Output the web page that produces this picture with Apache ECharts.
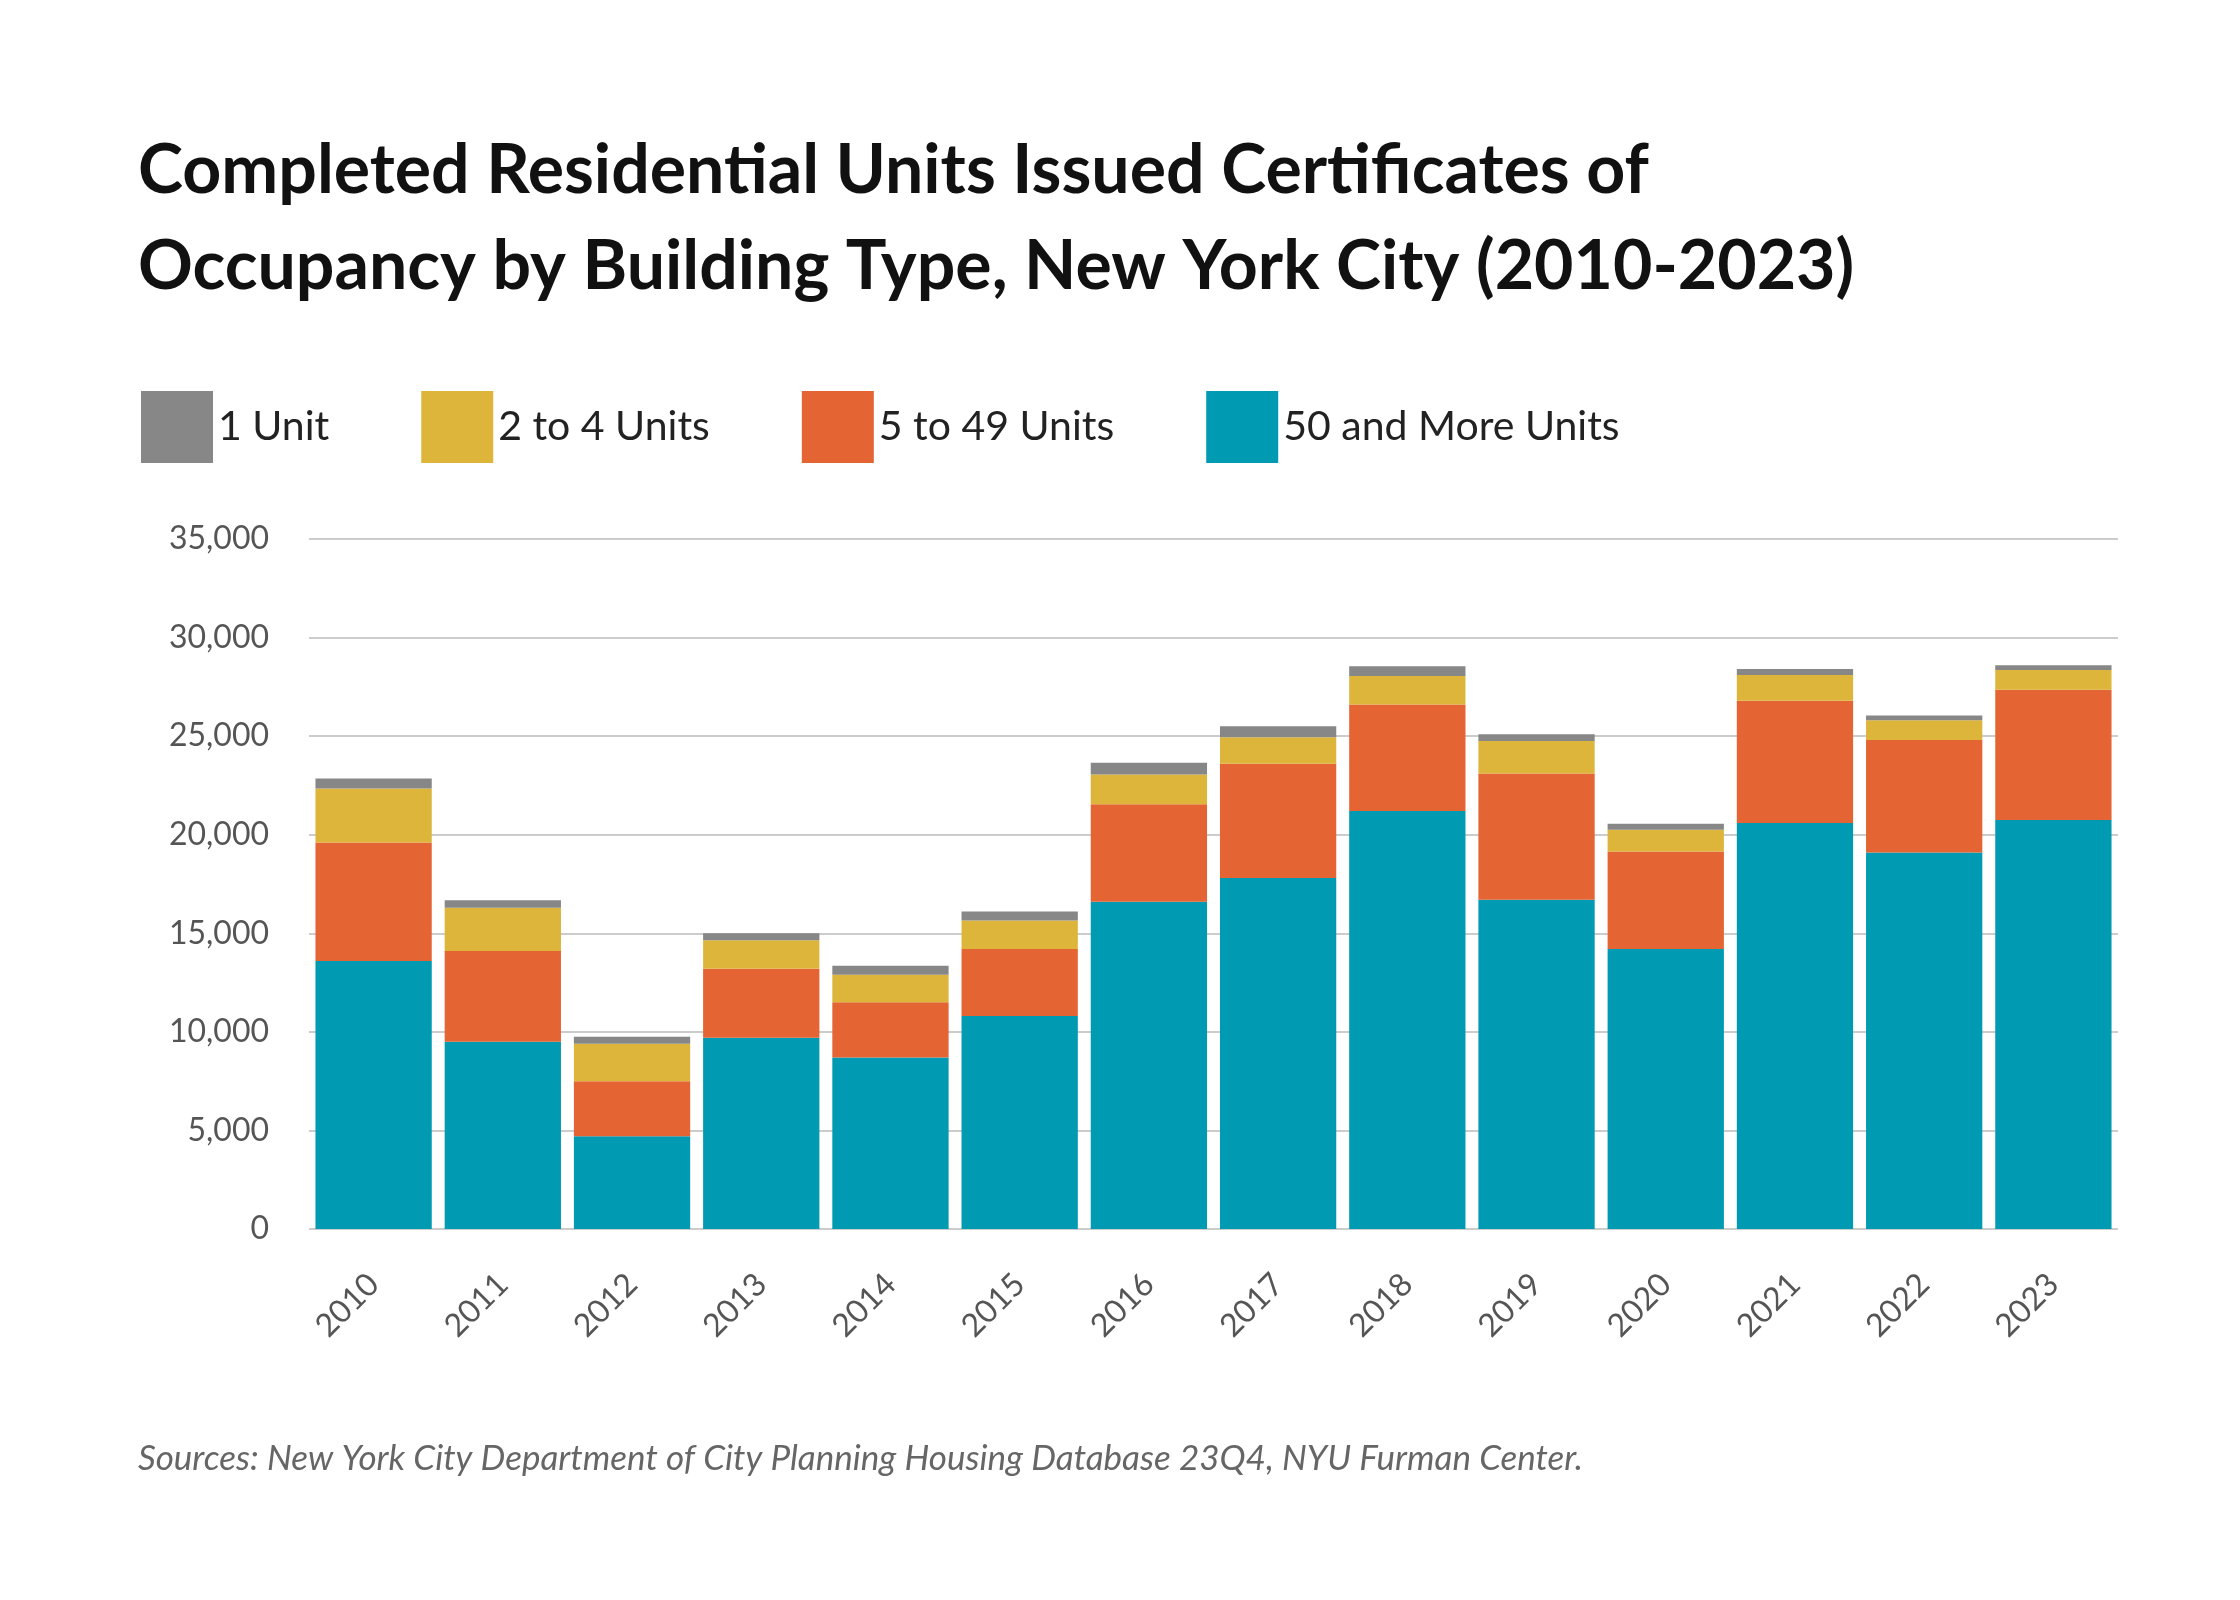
<!DOCTYPE html>
<html><head><meta charset="utf-8">
<script src="https://cdn.jsdelivr.net/npm/echarts@6/dist/echarts.min.js"></script>
<style>html,body{margin:0;background:#fff}#c{width:2240px;height:1600px}</style>
</head><body><div id="c"></div>
<script>
const years=['2010','2011','2012','2013','2014','2015','2016','2017','2018','2019','2020','2021','2022','2023'];
const units50=[13600,9500,4700,9700,8700,10800,16600,17800,21200,16700,14200,20600,19100,20750];
const units5to49=[6000,4600,2800,3500,2800,3400,4950,5800,5400,6400,4950,6200,5700,6600];
const units2to4=[2750,2200,1900,1450,1400,1450,1500,1350,1450,1650,1100,1300,1000,1000];
const units1=[500,370,350,350,450,450,600,550,500,350,300,300,250,250];
const ch=echarts.init(document.getElementById('c'));
const F='Lato, "Open Sans", sans-serif';
function s(name,data,color){return {name,type:'bar',stack:'a',data,barWidth:'90%',itemStyle:{color},emphasis:{disabled:true}};}
ch.setOption({
  animation:false,
  title:[{text:'Completed Residential Units Issued Certificates of\nOccupancy by Building Type, New York City (2010-2023)',left:133,top:118,
    textStyle:{fontFamily:F,fontWeight:'bold',fontSize:68,lineHeight:96,color:'#111'}},
    {text:'Sources: New York City Department of City Planning Housing Database 23Q4, NYU Furman Center.',left:133,top:1436,
    textStyle:{fontFamily:F,fontStyle:'italic',fontWeight:'normal',fontSize:35,color:'#666'}}],
  legend:{left:136,top:386,itemWidth:72,itemHeight:72,itemGap:92,icon:'rect',
    textStyle:{fontFamily:F,fontSize:41,color:'#222'},
    data:['1 Unit','2 to 4 Units','5 to 49 Units','50 and More Units']},
  grid:{left:309,right:122,top:539,bottom:371},
  xAxis:{type:'category',data:years,axisLine:{show:false},axisTick:{show:false},
    axisLabel:{rotate:45,margin:50,fontFamily:F,fontSize:32,color:'#555'}},
  yAxis:{type:'value',min:0,max:35000,interval:5000,
    axisLabel:{margin:40,fontFamily:F,fontSize:32,color:'#555',formatter:v=>v.toLocaleString('en-US')},
    splitLine:{lineStyle:{color:'#ccc',width:2}}},
  series:[s('50 and More Units',units50,'#009BB2'),s('5 to 49 Units',units5to49,'#E56434'),
    s('2 to 4 Units',units2to4,'#DDB53B'),s('1 Unit',units1,'#878787')]
});
</script></body></html>
